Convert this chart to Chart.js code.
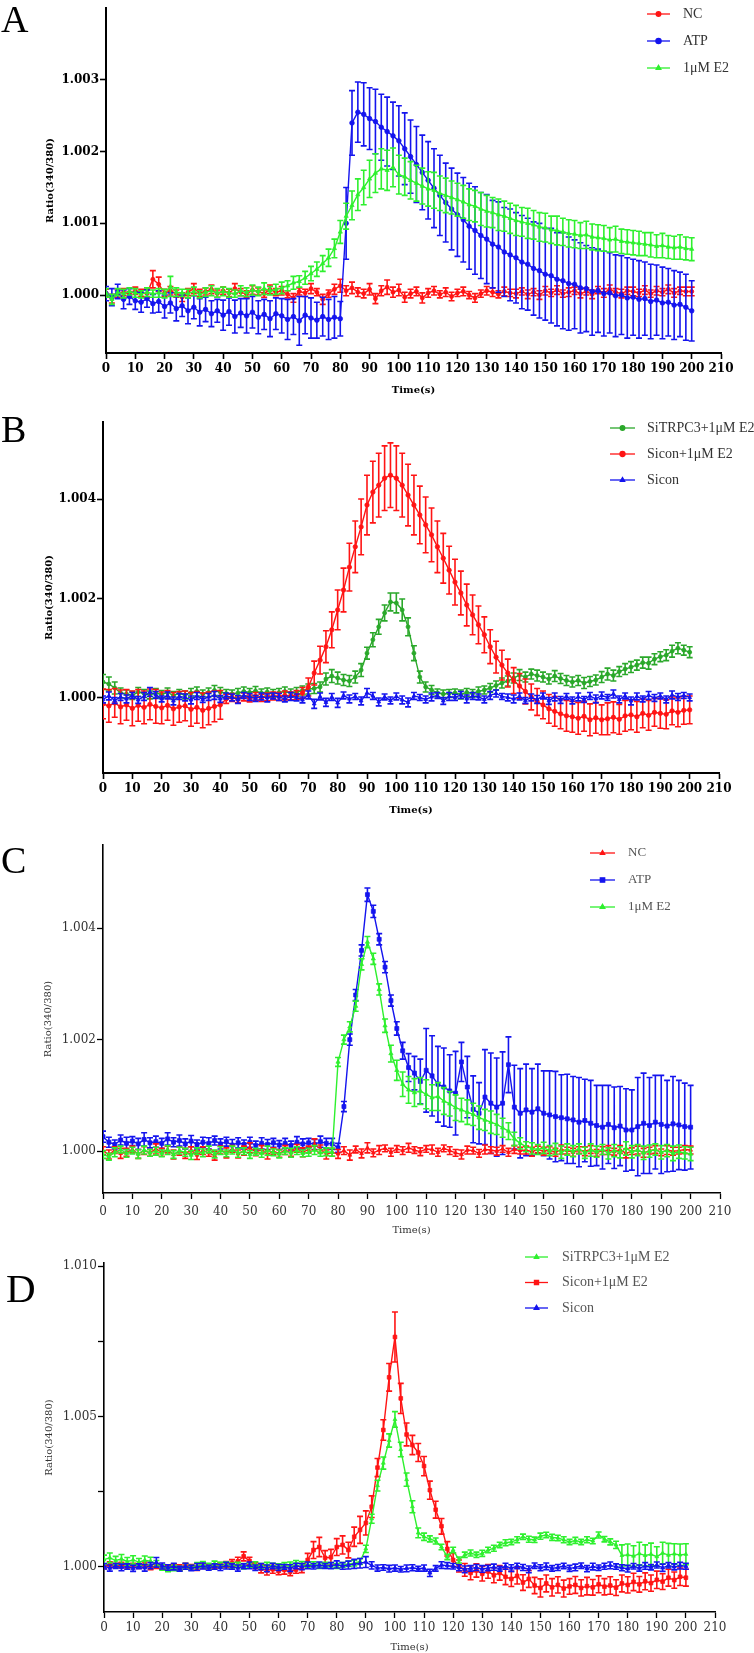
<!DOCTYPE html>
<html>
<head>
<meta charset="utf-8">
<title>Ratio(340/380) time courses</title>
<script src="https://cdn.jsdelivr.net/npm/chart.js@4.4.0/dist/chart.umd.min.js"></script>
<style>
  body { margin: 0; background: #fff; }
  .panel { position: absolute; left: 0; }
</style>
</head>
<body>
<canvas id="panelA" class="panel" width="754" height="410" style="top:0px"></canvas>
<canvas id="panelB" class="panel" width="754" height="415" style="top:410px"></canvas>
<canvas id="panelC" class="panel" width="754" height="412" style="top:825px"></canvas>
<canvas id="panelD" class="panel" width="754" height="416" style="top:1237px"></canvas>
<script>
// sampling times (s)
const time = [0,2,4,6,8,10,12,14,16,18,20,22,24,26,28,30,32,34,36,38,40,42,44,46,48,50,52,54,56,58,
  60,62,64,66,68,70,72,74,76,78,80,82,84,86,88,90,92,94,96,98,100,102,104,106,108,110,112,114,116,118,
  120,122,124,126,128,130,132,134,136,138,140,142,144,146,148,150,152,154,156,158,160,162,164,166,168,
  170,172,174,176,178,180,182,184,186,188,190,192,194,196,198,200];

// all values below are (ratio - 1) x 10^4; *Err = error bar half-length
// ---- A ----
const aNC = [0.3,-0.5,0.2,0.4,0.1,0.6,0.3,0.2,2.2,1.5, 0.3,0.6,0.2,-0.3,0.4,0.9,0.3,0.5,0.8,0.2,
  0.6,0.3,0.9,0.4,0.1,0.7,0.5,0.2,0.8,0.4, 0.6,0.1,-0.4,0.5,0.3,0.9,0.4,-0.6,0.2,0.8,
  1.3,0.6,1.0,0.4,0.2,0.8,-0.5,0.6,1.1,0.4, 0.7,-0.3,0.2,0.5,-0.4,0.3,0.6,0.1,0.4,-0.2,
  0.3,0.5,0.0,-0.4,0.2,0.6,0.4,0.1,0.5,0.3, 0.2,0.5,0.1,0.4,0.0,0.6,0.3,0.7,0.2,0.4,
  0.6,0.2,0.5,0.1,0.7,0.3,0.8,0.4,0.2,0.6, 0.5,0.3,0.7,0.2,0.6,0.4,0.8,0.3,0.6,0.5, 0.5];
const aNCErr = [0.5,0.6,0.5,0.5,0.4,0.5,0.5,0.6,1.2,1.0, 0.5,0.6,0.5,0.6,0.5,0.7,0.5,0.5,0.6,0.5,
  0.5,0.5,0.7,0.5,0.5,0.6,0.5,0.5,0.6,0.5, 0.6,0.5,0.6,0.5,0.5,0.7,0.5,0.7,0.5,0.7,
  0.9,0.7,0.8,0.6,0.6,0.8,0.7,0.7,1.0,0.7, 0.8,0.7,0.6,0.6,0.7,0.6,0.6,0.5,0.6,0.6,
  0.5,0.6,0.5,0.6,0.5,0.6,0.6,0.5,0.6,0.5, 0.6,0.5,0.6,0.5,0.6,0.6,0.5,0.6,0.5,0.6,
  0.5,0.6,0.5,0.6,0.5,0.6,0.6,0.5,0.6,0.5, 0.6,0.5,0.6,0.5,0.6,0.5,0.6,0.6,0.5,0.6, 0.6];
const aATP = [0.2,-0.3,0.5,-0.6,-0.2,-0.8,-1.0,-0.5,-1.2,-0.9, -1.6,-1.1,-1.9,-1.5,-2.2,-1.7,-2.4,-2.0,-2.6,-2.2,
  -2.8,-2.3,-3.0,-2.5,-2.9,-2.4,-3.1,-2.7,-3.3,-2.6, -2.9,-3.4,-3.0,-3.6,-2.8,-3.2,-3.5,-3.0,-3.4,-3.1,
  -3.3,10.0,24.0,25.5,25.2,24.6,24.2,23.4,22.8,22.2, 21.5,20.4,19.3,18.2,17.1,16.0,14.9,13.9,12.9,12.0,
  11.2,10.5,9.6,9.0,8.3,7.8,7.1,6.7,6.0,5.6, 5.2,4.6,4.3,3.7,3.4,2.9,2.7,2.2,2.0,1.6,
  1.5,1.0,0.9,0.5,0.6,0.2,0.3,-0.1,0.0,-0.4, -0.3,-0.6,-0.5,-0.9,-0.7,-1.1,-1.0,-1.4,-1.3,-1.7, -2.2];
const aATPErr = [1.0,1.2,1.0,1.3,1.1,1.2,1.4,1.2,1.3,1.5, 1.6,1.4,1.7,1.5,1.8,1.6,1.9,1.7,1.8,1.6,
  2.1,1.9,2.3,2.0,2.4,2.2,2.3,2.1,2.5,2.2, 2.4,2.8,2.5,3.4,2.6,2.8,2.5,2.7,2.8,2.9,
  2.4,5.0,4.5,4.2,4.4,4.3,4.5,4.6,4.8,4.7, 4.9,5.0,5.1,5.3,5.2,5.4,5.5,5.6,5.5,5.7,
  5.8,5.9,6.0,6.1,6.0,6.2,6.1,6.3,6.2,6.4, 6.3,6.5,6.4,6.5,6.6,6.4,6.6,6.5,6.7,6.5,
  6.2,6.3,6.0,6.1,5.8,5.9,5.6,5.7,5.5,5.6, 5.3,5.4,5.1,5.2,4.9,5.0,4.7,4.8,4.5,4.6, 4.2];
const aE2 = [0.3,-0.6,0.4,0.2,0.5,0.3,0.1,0.4,0.2,0.3, 0.2,1.2,0.4,0.3,0.2,0.5,0.1,0.4,0.6,0.3,
  0.5,0.3,0.2,0.6,0.4,0.7,0.5,0.9,0.6,0.8, 1.0,1.3,1.7,1.9,2.4,3.0,3.6,4.4,5.2,6.5,
  8.8,11.0,12.5,14.0,15.0,16.2,17.0,17.6,17.4,17.8, 16.8,16.5,16.0,15.6,15.2,14.8,14.6,14.2,13.9,13.6,
  13.3,13.0,12.6,12.4,12.0,11.7,11.5,11.2,11.0,10.7, 10.4,10.2,10.0,9.8,9.5,9.4,9.1,9.0,8.8,8.6,
  8.5,8.3,8.4,8.1,8.0,7.9,7.7,7.8,7.5,7.4, 7.3,7.2,7.1,7.0,6.8,6.9,6.7,6.6,6.7,6.5, 6.4];
const aE2Err = [0.6,0.7,0.5,0.6,0.5,0.6,0.5,0.6,0.5,0.6, 0.6,1.4,0.6,0.5,0.6,0.6,0.5,0.6,0.7,0.6,
  0.6,0.6,0.5,0.7,0.6,0.7,0.6,0.8,0.6,0.7, 0.8,0.7,0.9,0.8,0.9,1.0,1.0,1.1,1.2,1.3,
  1.6,1.8,2.0,2.2,2.4,2.6,2.7,2.8,2.8,2.7, 2.7,2.6,2.6,2.5,2.5,2.4,2.5,2.4,2.4,2.3,
  2.3,2.3,2.2,2.2,2.3,2.2,2.1,2.2,2.1,2.1, 2.1,2.0,2.1,2.0,2.0,2.0,1.9,2.0,1.9,1.9,
  1.9,1.8,1.9,1.8,1.8,1.8,1.7,1.8,1.7,1.7, 1.7,1.7,1.6,1.7,1.6,1.7,1.6,1.6,1.7,1.6, 1.6];

// ---- B ----
const bSiTRPC3 = [3.2,2.8,2.0,1.0,0.8,0.5,1.2,0.9,0.6,1.0, 0.7,1.1,0.5,0.9,0.6,1.0,1.3,0.8,1.1,1.5,
  1.2,0.9,0.8,1.0,1.3,1.1,1.4,1.0,1.2,0.9, 1.1,1.3,1.0,1.2,1.5,1.8,1.9,2.2,3.8,4.4,
  4.0,3.6,3.4,4.2,5.6,9.0,11.7,14.3,17.1,19.3, 19.1,17.7,14.3,9.0,4.2,2.2,1.6,1.0,0.8,0.9,
  1.0,0.7,1.1,0.9,1.3,1.6,2.0,2.5,3.0,3.4, 4.0,4.6,4.2,4.8,4.5,4.2,3.8,4.4,3.9,3.5,
  3.2,3.5,3.0,3.3,3.6,4.2,4.8,4.5,5.3,5.8, 6.2,6.6,7.1,7.0,7.8,8.3,8.6,9.4,10.0,9.6, 9.2];
const bSiTRPC3Err = [1.5,1.4,1.2,1.0,0.8,0.8,0.9,0.8,0.8,0.9, 0.8,0.9,0.8,0.8,0.8,0.9,0.9,0.8,0.9,1.0,
  0.9,0.8,0.8,0.9,0.9,0.8,0.9,0.8,0.8,0.8, 0.8,0.9,0.8,0.9,0.9,1.0,1.0,1.0,1.2,1.3,
  1.2,1.1,1.1,1.2,1.3,1.2,1.4,1.5,1.6,1.8, 2.0,2.2,1.8,1.5,1.2,1.0,0.9,0.8,0.8,0.8,
  0.8,0.9,0.8,0.8,0.9,0.8,0.9,0.9,1.0,1.0, 1.0,1.1,1.0,1.0,1.1,1.0,1.0,1.1,1.0,1.0,
  1.0,1.0,1.1,1.0,1.0,1.1,1.2,1.1,1.0,1.1, 1.1,1.0,1.1,1.2,1.1,1.0,1.1,1.2,1.1,1.0, 1.1];
const bSiconE2 = [-1.2,-1.6,-1.0,-1.8,-1.4,-2.1,-1.5,-1.9,-1.3,-1.7, -2.0,-1.5,-2.2,-1.8,-1.6,-2.3,-1.9,-2.5,-2.1,-1.7,
  -1.4,-0.2,0.1,-0.3,0.2,-0.1,0.3,0.0,0.2,0.4, 0.3,0.5,0.4,0.6,1.0,2.2,5.0,7.6,10.3,13.7,
  17.7,21.7,26.3,30.4,34.4,38.8,41.4,42.8,44.2,44.8, 44.2,42.8,40.8,38.8,36.8,34.8,32.8,30.4,28.1,25.7,
  23.3,21.1,18.7,16.7,14.7,12.7,10.3,8.2,6.6,5.0, 3.5,2.4,1.3,0.2,-0.8,-1.4,-2.2,-2.7,-3.2,-3.6,
  -3.8,-4.1,-3.7,-4.4,-4.0,-4.4,-4.2,-3.9,-4.3,-3.6, -3.4,-3.8,-3.1,-3.5,-2.9,-3.1,-3.3,-2.6,-2.9,-2.5, -2.4];
const bSiconE2Err = [3.0,3.3,2.9,3.4,3.1,3.5,3.2,3.3,3.1,3.4, 3.2,3.0,3.3,3.1,3.0,3.4,3.2,3.5,3.3,3.1,
  2.9,0.9,0.8,0.7,0.8,0.7,0.8,0.7,0.8,0.8, 0.8,0.9,0.8,0.9,1.1,1.8,2.4,2.8,3.2,3.6,
  4.0,4.4,4.8,5.2,5.6,6.0,6.2,6.4,6.5,6.5, 6.5,6.4,6.2,6.0,5.8,5.6,5.4,5.2,5.0,4.8,
  4.6,4.4,4.2,4.0,3.8,3.6,3.4,3.2,3.0,2.8, 2.6,2.5,2.5,2.6,2.7,2.8,2.9,3.0,3.0,3.1,
  3.1,3.2,3.0,3.2,3.1,3.0,3.2,3.1,3.0,3.1, 3.0,3.1,2.9,3.0,2.8,3.0,2.9,2.8,2.9,2.8, 2.8];
const bSicon = [-0.3,0.4,-0.5,0.2,-0.2,0.5,-0.4,0.3,1.2,0.6, -0.2,0.5,-0.6,0.3,0.1,-0.4,0.4,-0.3,0.2,0.5,
  -0.2,0.4,0.1,-0.3,0.5,0.2,-0.1,0.3,0.0,0.4, 0.2,-0.2,0.3,0.1,-0.4,0.6,-1.2,0.3,-0.9,0.2,
  -1.0,0.5,-0.2,0.3,-0.6,1.0,0.4,-0.8,0.2,-0.5, 0.3,-0.4,-0.9,0.4,0.1,-0.3,0.2,0.5,-0.6,0.3,
  0.1,0.6,-0.2,0.4,0.2,-0.3,0.5,0.9,0.3,0.1, -0.2,0.3,-0.5,0.1,-0.3,0.4,-0.6,0.2,-0.4,0.3,
  -0.5,0.2,-0.3,0.4,-0.2,0.5,0.1,0.8,-0.3,0.4, -0.6,0.3,-0.2,0.5,0.0,0.4,-0.3,0.6,0.2,0.5, 0.1];
const bSiconErr = [0.7,0.8,0.6,0.7,0.8,0.6,0.7,0.8,0.9,0.7, 0.6,0.7,0.8,0.6,0.7,0.8,0.7,0.6,0.7,0.8,
  0.7,0.6,0.7,0.8,0.6,0.7,0.6,0.7,0.8,0.6, 0.7,0.6,0.8,0.7,0.6,0.8,0.9,0.7,0.8,0.7,
  0.9,0.7,0.8,0.6,0.8,0.9,0.7,0.8,0.6,0.7, 0.7,0.8,0.9,0.7,0.6,0.7,0.8,0.6,0.7,0.8,
  0.6,0.7,0.8,0.7,0.6,0.7,0.8,0.7,0.6,0.7, 0.8,0.7,0.6,0.7,0.8,0.6,0.7,0.8,0.7,0.6,
  0.7,0.8,0.6,0.7,0.8,0.7,0.6,0.8,0.7,0.6, 0.8,0.7,0.6,0.8,0.7,0.6,0.7,0.8,0.7,0.6, 0.7];

// ---- C ----
const cNC = [0.1,-0.6,0.2,-0.4,-0.2,0.3,-0.5,0.1,-0.3,0.4, -0.2,0.3,-0.6,0.0,-0.4,0.2,-0.7,0.1,-0.3,-0.8,
  0.2,-0.3,0.4,-0.5,0.1,0.6,-0.2,0.3,-0.6,0.0, -0.4,0.2,-0.3,0.5,-0.2,0.3,1.2,0.4,-0.6,-0.2,
  -0.5,0.1,-0.7,0.3,-0.4,0.6,-0.3,0.2,0.5,-0.2, 0.4,0.1,0.6,0.2,-0.1,0.4,0.3,-0.2,0.5,0.1,
  -0.3,-0.6,0.2,0.1,-0.4,0.3,0.2,0.0,0.4,-0.2, 0.3,0.1,0.2,-0.1,0.3,0.0,0.2,-0.2,0.3,0.1,
  -0.2,0.2,0.0,0.3,-0.3,0.1,0.2,-0.1,0.3,-0.4, 0.0,0.2,-0.3,0.1,0.3,-0.2,0.2,0.0,0.1,0.3, 0.2];
const cNCErr = [0.7,0.8,0.6,0.9,0.7,0.6,0.8,0.7,0.6,0.9, 0.7,0.6,0.8,0.7,0.9,0.6,0.8,0.7,0.6,0.8,
  0.7,0.9,0.6,0.7,0.8,0.9,0.6,0.7,0.8,0.6, 0.7,0.8,0.6,0.7,0.8,0.6,1.0,0.7,0.8,0.7,
  0.8,0.7,0.9,0.6,0.8,0.9,0.7,0.8,0.6,0.7, 0.6,0.7,0.8,0.6,0.7,0.6,0.8,0.7,0.6,0.7,
  0.6,0.8,0.7,0.6,0.7,0.8,0.6,0.7,0.6,0.7, 0.7,0.6,0.7,0.8,0.6,0.7,0.6,0.7,0.8,0.6,
  0.7,0.6,0.8,0.7,0.6,0.7,0.8,0.6,0.7,0.8, 0.6,0.7,0.8,0.6,0.7,0.6,0.8,0.7,0.6,0.7, 0.7];
const cATP = [2.6,1.6,1.2,2.0,1.4,1.8,1.3,2.1,1.5,1.7, 1.4,2.2,1.6,1.9,1.3,1.8,1.2,1.6,1.4,1.9,
  1.3,1.7,1.1,1.5,1.2,1.6,1.0,1.4,1.2,1.5, 1.1,1.4,1.0,1.6,1.3,1.5,1.2,1.7,1.4,1.3,
  0.6,8.0,20.0,28.0,36.0,46.0,43.0,38.0,33.0,27.0, 22.0,18.0,15.0,14.0,12.5,14.5,13.5,12.0,11.5,10.8,
  10.4,16.0,11.5,7.5,6.8,9.7,8.6,7.9,8.6,15.5, 7.9,6.8,7.4,7.0,7.6,6.8,6.5,6.2,6.0,5.8,
  5.6,5.2,5.5,5.0,4.6,4.3,4.8,4.2,4.5,3.8, 3.8,4.4,5.0,4.6,5.2,4.8,4.5,4.9,4.7,4.4, 4.3];
const cATPErr = [1.0,0.9,0.8,0.9,1.1,0.8,1.0,1.2,0.9,1.0, 0.9,1.1,0.8,1.0,0.9,1.0,0.8,0.9,1.0,0.8,
  0.9,0.8,1.0,0.9,0.8,0.9,0.8,1.0,0.9,0.8, 0.8,0.9,0.8,1.0,0.9,0.8,0.9,1.0,0.9,1.0,
  0.8,0.9,1.0,1.0,1.0,1.2,1.1,1.0,1.0,1.0, 1.2,1.5,2.5,3.0,4.0,7.5,7.2,6.8,7.0,6.5,
  7.5,3.5,5.5,6.0,5.5,8.5,9.0,8.8,9.2,5.0, 7.5,8.0,8.2,7.8,8.0,7.6,7.9,8.1,7.7,8.0,
  7.8,8.0,7.4,7.7,7.2,7.5,7.0,7.3,7.1,7.4, 7.2,8.8,9.0,8.6,8.4,8.8,8.2,8.5,8.0,7.8, 7.5];
const cE2 = [-0.6,-1.0,-0.2,0.3,-0.4,0.1,-0.5,0.2,-0.3,0.0, -0.4,0.2,-0.6,0.1,-0.2,-0.7,0.0,-0.3,0.3,-0.5,
  0.1,-0.4,0.2,-0.3,0.0,-0.6,-0.1,-0.4,0.1,-0.2, -0.5,0.0,-0.3,0.1,-0.4,-0.2,0.2,-0.3,-0.1,-0.2,
  16.0,20.0,22.3,26.0,33.5,37.5,34.5,29.0,22.5,17.5, 14.5,12.0,11.0,10.5,10.8,10.2,9.6,9.8,9.0,8.5,
  7.8,7.4,7.0,6.6,6.0,5.6,5.2,4.8,4.2,3.6, 2.2,1.4,0.8,0.5,0.3,0.6,0.1,0.4,-0.2,0.3,
  0.0,0.4,-0.3,0.2,-0.1,0.3,-0.4,0.1,-0.2,0.5, -0.1,0.2,-0.3,0.0,0.3,-0.2,0.1,-0.4,-0.1,-0.3, -0.5];
const cE2Err = [0.7,0.6,0.8,0.6,0.7,0.6,0.8,0.7,0.6,0.7, 0.6,0.8,0.7,0.6,0.7,0.8,0.6,0.7,0.6,0.7,
  0.7,0.6,0.7,0.8,0.6,0.7,0.6,0.7,0.8,0.6, 0.7,0.6,0.8,0.7,0.6,0.7,0.8,0.6,0.7,0.7,
  0.8,0.8,0.9,0.9,1.0,1.0,1.0,1.0,1.2,1.5, 1.8,2.2,2.4,2.5,2.4,2.6,2.3,2.5,2.4,2.2,
  2.3,2.1,2.2,2.0,2.1,1.9,2.0,1.8,1.7,1.5, 1.2,1.0,0.9,1.0,0.9,1.0,0.9,1.0,1.1,1.0,
  1.0,0.9,1.0,1.1,1.0,0.9,1.0,1.1,1.0,1.2, 1.1,1.0,1.2,1.1,1.0,1.2,1.1,1.3,1.2,1.1, 1.2];

// ---- D ----
const dSiTRPC3 = [2.4,3.0,2.1,2.6,1.8,2.3,1.6,2.2,1.9,1.0, -0.2,-0.8,-0.4,-0.6,0.2,-0.3,0.5,0.8,0.3,1.1,
  0.6,0.9,0.4,0.7,0.2,0.5,0.8,0.3,0.6,0.4, 0.2,0.5,0.8,1.2,1.0,0.6,0.9,0.4,0.7,0.5,
  0.3,0.6,1.0,1.2,1.8,6.0,16.0,27.0,34.5,42.0, 49.0,39.0,29.0,20.0,11.3,10.0,9.3,8.6,6.6,3.3,
  5.6,2.3,4.0,4.6,4.0,4.5,5.6,6.2,7.3,8.0, 8.3,9.0,10.0,9.2,9.0,10.2,10.6,9.8,9.6,9.0,
  8.3,8.8,8.3,9.0,8.6,10.6,9.2,8.3,7.3,3.8, 4.0,3.6,4.4,3.8,4.2,3.4,4.6,3.9,4.3,4.0, 4.2];
const dSiTRPC3Err = [1.5,1.6,1.4,1.5,1.3,1.4,1.2,1.4,1.3,1.1, 0.9,0.8,0.9,0.8,0.9,0.8,0.9,1.0,0.9,0.8,
  0.9,0.8,0.9,0.8,0.9,0.8,0.9,0.8,0.9,0.8, 0.8,0.9,0.8,0.9,0.8,0.9,0.8,0.9,0.8,0.9,
  0.8,0.8,0.9,0.9,1.0,1.2,1.5,1.8,2.0,2.2, 2.6,2.4,2.2,2.0,1.6,1.2,1.0,1.0,0.9,0.9,
  0.9,1.0,0.9,1.0,0.9,1.0,0.9,1.0,0.9,1.0, 0.9,1.0,0.9,1.0,0.9,1.0,0.9,1.0,0.9,1.0,
  0.9,1.0,0.9,1.0,0.9,1.0,0.9,1.0,1.2,3.5, 3.6,3.4,3.8,3.5,3.7,3.3,3.6,3.9,3.4,3.6, 3.5];
const dSiconE2 = [0.2,0.8,0.4,0.6,0.1,0.5,0.3,0.7,-0.1,0.2, 0.0,-0.3,0.2,-0.2,0.4,0.1,-0.4,0.3,0.0,0.2,
  0.5,0.8,1.2,1.8,3.5,2.0,0.4,-0.6,-1.2,-0.8, -1.4,-1.0,-1.6,-0.9,-0.4,2.3,5.6,6.6,3.0,3.2,
  6.6,7.3,5.6,10.0,12.3,14.6,20.0,33.0,45.5,63.0, 76.4,56.0,44.0,40.5,38.0,33.5,25.5,19.0,13.5,6.0,
  2.3,0.3,-1.0,-2.0,-1.2,-2.3,-1.5,-2.8,-2.0,-3.3, -4.0,-3.0,-5.2,-4.0,-6.2,-7.0,-5.5,-6.8,-6.0,-7.2,
  -6.5,-6.0,-7.0,-6.4,-6.8,-5.8,-6.6,-6.2,-6.9,-5.5, -6.0,-5.0,-5.8,-4.8,-5.4,-4.3,-4.9,-3.6,-4.4,-3.3, -3.6];
const dSiconE2Err = [0.8,0.9,0.8,0.9,0.8,0.7,0.8,0.9,0.8,0.7, 0.8,0.7,0.8,0.9,0.8,0.7,0.8,0.8,0.7,0.8,
  0.9,1.0,1.2,1.4,1.5,1.2,1.0,1.4,1.5,1.3, 1.2,1.4,1.3,1.2,1.5,2.2,2.8,3.2,2.4,2.6,
  2.8,3.0,2.6,3.2,4.5,4.0,3.6,3.0,3.4,4.6, 8.3,5.0,3.8,3.2,3.0,3.2,3.0,2.8,2.6,2.4,
  2.2,2.0,2.1,2.3,2.2,2.4,2.3,2.5,2.4,2.6, 2.5,2.7,2.6,2.8,2.7,3.0,2.8,2.9,2.7,2.8,
  2.6,2.8,2.7,2.9,2.6,2.8,2.7,2.9,2.6,2.8, 2.7,2.9,2.6,2.8,2.7,2.9,2.6,2.8,2.7,2.9, 2.8];
const dSicon = [0.2,-0.4,0.3,-0.2,0.1,-0.5,0.2,-0.3,0.4,1.5, 0.3,-0.2,0.1,-0.6,0.2,-0.4,0.0,0.3,-0.3,0.1,
  -0.2,0.4,0.1,-0.4,0.2,0.5,-0.3,0.1,-0.5,0.3, -0.2,0.0,-0.4,0.3,0.1,0.5,0.2,0.6,0.3,0.4,
  0.8,0.3,0.6,1.0,1.2,1.6,0.5,-0.4,-0.2,-0.6, -0.4,-0.8,-0.5,-0.3,-0.6,-0.4,-2.0,-0.5,0.6,0.4,
  0.2,-0.3,-0.8,-0.5,-0.2,-0.7,-0.4,-0.1,-0.6,0.2, -0.4,0.3,-0.2,-0.8,0.4,-0.3,0.2,-0.5,-0.2,0.3,
  -0.5,-0.2,0.4,-0.6,0.1,-0.3,0.2,0.5,0.1,-0.3, -0.6,0.2,-0.4,0.3,-0.1,0.6,-0.3,0.5,0.0,0.4, 0.2];
const dSiconErr = [0.9,1.0,0.8,1.1,0.9,1.0,0.8,1.1,1.0,1.6, 1.0,0.9,1.1,0.8,1.0,0.9,1.1,1.0,0.8,0.9,
  1.0,1.1,0.9,1.0,0.8,1.1,0.9,1.0,1.1,0.9, 1.0,0.8,1.1,0.9,1.0,1.1,0.9,1.0,0.8,1.0,
  1.2,1.1,1.3,1.5,1.6,1.8,1.2,1.0,0.9,1.1, 1.0,0.9,1.1,1.0,0.8,1.0,1.2,0.9,1.1,1.0,
  0.9,1.0,1.1,0.9,1.0,1.1,0.9,1.0,0.8,1.0, 1.1,0.9,1.0,1.1,0.9,1.0,1.1,0.9,1.0,0.9,
  1.0,1.1,0.9,1.0,1.1,0.9,1.0,1.1,0.9,1.0, 1.1,0.9,1.0,1.1,0.9,1.0,1.2,0.9,1.0,1.1, 1.0];

// y tick values per panel
const aYTicks = [1.000, 1.001, 1.002, 1.003];
const bYTicks = [1.000, 1.002, 1.004];
const cYTicks = [1.000, 1.002, 1.004];
const dYTicks = [1.000, 1.0025, 1.005, 1.0075, 1.010];
const dUnlabelled = [1.0025, 1.0075];

const RED = '#ff1414', BLUE = '#1414ee', LIME = '#2ef02e', GREEN = '#2aa82a';

function toPoints(vals) {
  return vals.map((v, i) => ({ x: time[i], y: 1 + v / 1e4 }));
}

// vertical error bars with caps, drawn under each line
const errorBars = {
  id: 'errorBars',
  beforeDatasetDraw(chart, args) {
    const ds = chart.data.datasets[args.index];
    if (!ds.errors) return;
    const ctx = chart.ctx, a = chart.chartArea, ys = chart.scales.y;
    ctx.save();
    ctx.beginPath();
    ctx.rect(a.left, a.top, a.right - a.left, a.bottom - a.top);
    ctx.clip();
    ctx.strokeStyle = ds.borderColor;
    ctx.lineWidth = 1.6;
    ctx.beginPath();
    args.meta.data.forEach((pt, i) => {
      const v = ds.data[i].y, e = ds.errors[i];
      const hi = ys.getPixelForValue(v + e), lo = ys.getPixelForValue(v - e);
      ctx.moveTo(pt.x, hi); ctx.lineTo(pt.x, lo);
      ctx.moveTo(pt.x - 3, hi); ctx.lineTo(pt.x + 3, hi);
      ctx.moveTo(pt.x - 3, lo); ctx.lineTo(pt.x + 3, lo);
    });
    ctx.stroke();
    ctx.restore();
  }
};

// legend in the top right corner + panel letter
const panelLegend = {
  id: 'panelLegend',
  afterDraw(chart, args, o) {
    const ctx = chart.ctx;
    ctx.save();
    chart.data.datasets.forEach((ds, i) => {
      const y = o.top + i * o.gap;
      ctx.strokeStyle = ds.borderColor;
      ctx.fillStyle = ds.borderColor;
      ctx.lineWidth = 1.3;
      ctx.beginPath();
      ctx.moveTo(o.left, y);
      ctx.lineTo(o.left + o.lineLen, y);
      ctx.stroke();
      Chart.helpers.drawPoint(ctx, { pointStyle: ds.pointStyle, radius: ds.pointRadius + 0.3, borderWidth: 1, rotation: 0 },
        o.left + o.lineLen / 2, y);
      ctx.fillStyle = o.color;
      ctx.font = o.font;
      ctx.textBaseline = 'middle';
      ctx.textAlign = 'left';
      ctx.fillText(ds.label, o.left + o.lineLen + o.textGap, y);
    });
    ctx.fillStyle = '#000';
    ctx.font = o.letterFont;
    ctx.textBaseline = 'alphabetic';
    ctx.fillText(o.letter, o.letterX, o.letterY);
    ctx.restore();
  }
};

function panel(id, o) {
  const cv = document.getElementById(id);
  const tickFont = { family: 'DejaVu Serif', size: 12, weight: o.bold ? 'bold' : 'normal' };
  const titleFont = { family: 'DejaVu Serif', size: 10, weight: o.bold ? 'bold' : 'normal' };
  const ink = o.bold ? '#000' : '#333';
  const grid = { display: true, drawOnChartArea: false, drawTicks: true, tickLength: 6,
    tickColor: '#000', tickWidth: o.bold ? 1.6 : 1.3 };
  const border = { display: true, color: '#000', width: o.bold ? 2 : 1.6 };
  return new Chart(cv, {
    type: 'line',
    data: {
      datasets: o.series.map(s => ({
        label: s.label,
        data: toPoints(s.values),
        errors: s.errors.map(e => e / 1e4),
        borderColor: s.color,
        backgroundColor: s.color,
        borderWidth: 1.4,
        pointStyle: s.marker,
        pointRadius: s.size,
        pointBorderWidth: 0.8,
        order: s.order,
        tension: 0
      }))
    },
    options: {
      responsive: false,
      animation: false,
      events: [],
      layout: { padding: { top: o.area.top, right: cv.width - o.area.right, left: 0, bottom: 0 } },
      plugins: { legend: { display: false }, tooltip: { enabled: false }, panelLegend: o.legend },
      scales: {
        x: {
          type: 'linear', min: 0, max: 210,
          ticks: { stepSize: 10, autoSkip: false, maxRotation: 0, font: tickFont, color: ink, padding: o.xPad },
          grid: grid, border: border,
          title: { display: true, text: 'Time(s)', font: titleFont, color: ink, padding: { top: 0, bottom: o.xTitlePad } },
          afterFit: s => { s.height = cv.height - o.area.bottom; }
        },
        y: {
          min: o.yMin, max: o.yMax,
          afterBuildTicks: s => { s.ticks = o.yTicks.map(v => ({ value: v })); },
          ticks: { font: tickFont, color: ink, padding: 1,
            callback: v => (o.unlabelled || []).includes(v) ? '' : v.toFixed(3) },
          grid: grid, border: border,
          title: { display: true, text: 'Ratio(340/380)', font: titleFont, color: ink, padding: { top: o.yTitleX - 6, bottom: 0 } },
          afterFit: s => { s.width = o.area.left; }
        }
      }
    },
    plugins: [errorBars, panelLegend]
  });
}

panel('panelA', {
  bold: true, area: { left: 106, right: 721, top: 2, bottom: 353 },
  yMin: 0.999192, yMax: 1.004, yTicks: aYTicks, xPad: 3, xTitlePad: 14, yTitleX: 50,
  series: [
    { label: 'NC', values: aNC, errors: aNCErr, color: RED, marker: 'circle', size: 2, order: 2 },
    { label: 'ATP', values: aATP, errors: aATPErr, color: BLUE, marker: 'circle', size: 2.3, order: 1 },
    { label: '1μM E2', values: aE2, errors: aE2Err, color: LIME, marker: 'triangle', size: 2.4, order: 0 }
  ],
  legend: { left: 647, top: 14, gap: 27, lineLen: 23, textGap: 13, font: '14px "Liberation Serif"', color: '#333',
    letter: 'A', letterX: 1, letterY: 32, letterFont: '38px "Liberation Serif"' }
});

panel('panelB', {
  bold: true, area: { left: 103, right: 719, top: 12, bottom: 363 },
  yMin: 0.99849, yMax: 1.00555, yTicks: bYTicks, xPad: 3, xTitlePad: 9, yTitleX: 49,
  series: [
    { label: 'SiTRPC3+1μM E2', values: bSiTRPC3, errors: bSiTRPC3Err, color: GREEN, marker: 'circle', size: 2, order: 2 },
    { label: 'Sicon+1μM E2', values: bSiconE2, errors: bSiconE2Err, color: RED, marker: 'circle', size: 2.2, order: 1 },
    { label: 'Sicon', values: bSicon, errors: bSiconErr, color: BLUE, marker: 'triangle', size: 2.2, order: 0 }
  ],
  legend: { left: 610, top: 18, gap: 26, lineLen: 25, textGap: 12, font: '14px "Liberation Serif"', color: '#333',
    letter: 'B', letterX: 1, letterY: 32, letterFont: '38px "Liberation Serif"' }
});

panel('panelC', {
  bold: false, area: { left: 103, right: 720, top: 20, bottom: 368 },
  yMin: 0.99925, yMax: 1.00549, yTicks: cYTicks, xPad: 6, xTitlePad: 1, yTitleX: 48,
  series: [
    { label: 'NC', values: cNC, errors: cNCErr, color: RED, marker: 'triangle', size: 2.2, order: 1 },
    { label: 'ATP', values: cATP, errors: cATPErr, color: BLUE, marker: 'rect', size: 2.8, order: 2 },
    { label: '1μM E2', values: cE2, errors: cE2Err, color: LIME, marker: 'triangle', size: 2.4, order: 0 }
  ],
  legend: { left: 590, top: 28, gap: 27, lineLen: 25, textGap: 13, font: '13px "Liberation Serif"', color: '#555',
    letter: 'C', letterX: 1, letterY: 48, letterFont: '38px "Liberation Serif"' }
});

panel('panelD', {
  bold: false, area: { left: 104, right: 715, top: 26, bottom: 375 },
  yMin: 0.9985, yMax: 1.0101, yTicks: dYTicks, unlabelled: dUnlabelled, xPad: 3, xTitlePad: 0, yTitleX: 49,
  series: [
    { label: 'SiTRPC3+1μM E2', values: dSiTRPC3, errors: dSiTRPC3Err, color: LIME, marker: 'triangle', size: 2.2, order: 1 },
    { label: 'Sicon+1μM E2', values: dSiconE2, errors: dSiconE2Err, color: RED, marker: 'rect', size: 2.6, order: 2 },
    { label: 'Sicon', values: dSicon, errors: dSiconErr, color: BLUE, marker: 'triangle', size: 2.4, order: 0 }
  ],
  legend: { left: 525, top: 20, gap: 25.5, lineLen: 23, textGap: 14, font: '14px "Liberation Serif"', color: '#555',
    letter: 'D', letterX: 6, letterY: 65, letterFont: '41px "Liberation Serif"' }
});
</script>
</body>
</html>
